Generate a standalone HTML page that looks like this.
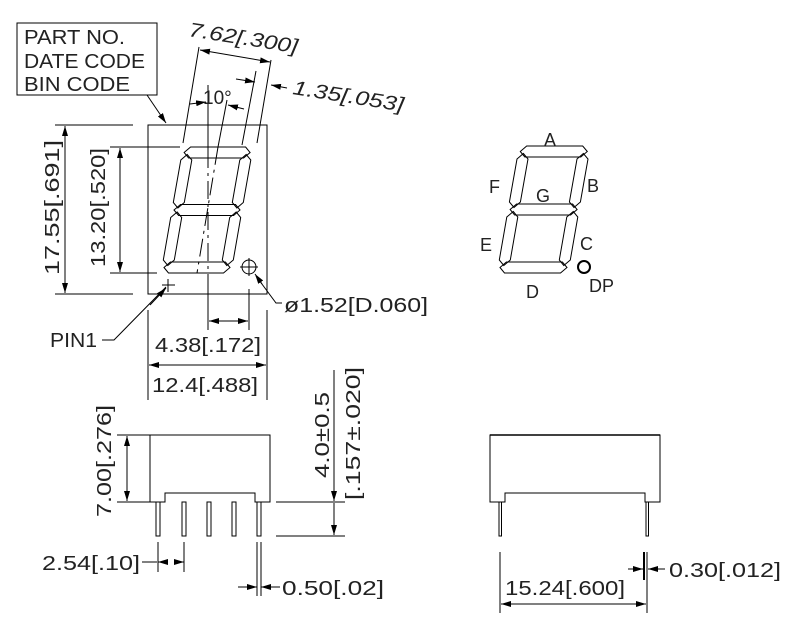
<!DOCTYPE html>
<html><head><meta charset="utf-8"><style>
html,body{margin:0;padding:0;background:#fff;}
svg{display:block;}
text{font-family:"Liberation Sans",sans-serif;fill:#222;}
</style></head><body>
<svg id="s" width="804" height="625" viewBox="0 0 804 625" xmlns="http://www.w3.org/2000/svg">
<defs>
<marker id="a" viewBox="0 0 10 6" refX="10" refY="3" markerWidth="10" markerHeight="6" orient="auto-start-reverse" markerUnits="userSpaceOnUse"><path d="M0,0 L10,3 L0,6z" fill="#000"/></marker>
</defs>
<g stroke="#000" stroke-width="1" fill="none">
<rect x="17" y="23" width="140" height="72"/>
<line x1="147" y1="95" x2="166" y2="123" marker-end="url(#a)"/>
<rect x="148" y="125" width="119" height="169"/>
<line x1="55" y1="125" x2="133" y2="125"/><line x1="55" y1="294" x2="133" y2="294"/>
<line x1="65" y1="126" x2="65" y2="293" marker-start="url(#a)" marker-end="url(#a)"/>
<line x1="110" y1="147" x2="180" y2="147"/><line x1="110" y1="273" x2="157" y2="273"/>
<line x1="120" y1="148" x2="120" y2="272" marker-start="url(#a)" marker-end="url(#a)"/>
<line x1="183" y1="143" x2="199" y2="47"/>
<line x1="242" y1="145" x2="256" y2="71"/>
<line x1="257" y1="143" x2="271" y2="60"/>
<line x1="200" y1="50" x2="270" y2="62" marker-start="url(#a)" marker-end="url(#a)"/>
<line x1="236" y1="79" x2="255" y2="82" marker-end="url(#a)"/>
<line x1="287" y1="88" x2="271" y2="85" marker-end="url(#a)"/>
<line x1="208" y1="85" x2="208" y2="150"/>
<line x1="208" y1="150" x2="208" y2="290" stroke-dasharray="18,5,3,5"/>
<line x1="227" y1="100" x2="218" y2="147"/>
<line x1="218" y1="147" x2="197" y2="273" stroke-dasharray="18,5,3,5"/>
<line x1="190" y1="104" x2="206" y2="102" marker-end="url(#a)"/>
<line x1="244" y1="109" x2="228" y2="105" marker-end="url(#a)"/>
<circle cx="249" cy="267" r="7"/>
<line x1="240" y1="267" x2="258" y2="267"/><line x1="249" y1="258" x2="249" y2="276"/>
<polyline points="282,303 276,303 256,276"/>
<line x1="262" y1="284" x2="255" y2="274" marker-end="url(#a)"/>
<line x1="162" y1="285" x2="175" y2="285"/><line x1="168" y1="279" x2="168" y2="292"/>
<polyline points="102,340 114,340 166,287"/>
<line x1="150" y1="305" x2="166" y2="288" marker-end="url(#a)"/>
<line x1="208" y1="289" x2="208" y2="330"/><line x1="249" y1="289" x2="249" y2="330"/>
<line x1="209" y1="321" x2="248" y2="321" marker-start="url(#a)" marker-end="url(#a)"/>
<line x1="148" y1="310" x2="148" y2="400"/><line x1="267" y1="310" x2="267" y2="400"/>
<line x1="149" y1="365" x2="266" y2="365" marker-start="url(#a)" marker-end="url(#a)"/>
<path d="M150,502 V435 H270 V502 H255 V493 H165 V502 Z"/>
<g id="pins"></g>
<line x1="117" y1="435" x2="150" y2="435"/><line x1="117" y1="502" x2="150" y2="502"/>
<line x1="127" y1="436" x2="127" y2="501" marker-start="url(#a)" marker-end="url(#a)"/>
<line x1="276" y1="502" x2="345" y2="502"/><line x1="276" y1="536" x2="345" y2="536"/>
<line x1="334" y1="370" x2="334" y2="501" marker-end="url(#a)"/>
<line x1="334" y1="503" x2="334" y2="535" marker-end="url(#a)"/>
<line x1="158" y1="542" x2="158" y2="572"/><line x1="184" y1="542" x2="184" y2="572"/>
<line x1="142" y1="562" x2="157" y2="562"/>
<line x1="168" y1="562" x2="158" y2="562" marker-end="url(#a)"/>
<line x1="174" y1="562" x2="184" y2="562" marker-end="url(#a)"/>
<line x1="257" y1="542" x2="257" y2="596"/><line x1="261" y1="542" x2="261" y2="596"/>
<line x1="238" y1="587" x2="257" y2="587" marker-end="url(#a)"/>
<line x1="280" y1="587" x2="261" y2="587" marker-end="url(#a)"/>
<path d="M490,502 V435 H660 V502 H645 V493 H505 V502 Z"/>
<line x1="490" y1="435" x2="660" y2="435" stroke-width="1.5"/>
<rect x="499" y="502" width="2.5" height="34"/><rect x="646" y="502" width="2.5" height="34"/>
<line x1="500" y1="552" x2="500" y2="613"/><line x1="647" y1="552" x2="647" y2="613"/>
<line x1="501" y1="604" x2="646" y2="604" marker-start="url(#a)" marker-end="url(#a)"/>
<line x1="644" y1="552" x2="644" y2="580" stroke-width="2"/>
<line x1="628" y1="569" x2="643" y2="569" marker-end="url(#a)"/>
<line x1="665" y1="569" x2="648" y2="569" marker-end="url(#a)"/>
<circle cx="584" cy="267" r="6" stroke-width="2"/>
<g id="segs" stroke-width="1"></g>
</g>
<g font-size="20">
<text x="24" y="44" textLength="101" lengthAdjust="spacingAndGlyphs">PART NO.</text>
<text x="24" y="68" textLength="121" lengthAdjust="spacingAndGlyphs">DATE CODE</text>
<text x="24" y="91" textLength="106" lengthAdjust="spacingAndGlyphs">BIN CODE</text>
<text transform="translate(188,36) rotate(9)" font-style="italic" textLength="110" lengthAdjust="spacingAndGlyphs">7.62[.300]</text>
<text transform="translate(292,94) rotate(9)" font-style="italic" textLength="112" lengthAdjust="spacingAndGlyphs">1.35[.053]</text>
<text x="203" y="104" font-size="19">10°</text>
<text transform="translate(59,275) rotate(-90)" textLength="135" lengthAdjust="spacingAndGlyphs">17.55[.691]</text>
<text transform="translate(105,267) rotate(-90)" textLength="119" lengthAdjust="spacingAndGlyphs">13.20[.520]</text>
<text x="284" y="312" textLength="144" lengthAdjust="spacingAndGlyphs">ø1.52[D.060]</text>
<text x="50" y="347" textLength="47" lengthAdjust="spacingAndGlyphs">PIN1</text>
<text x="155" y="352" textLength="106" lengthAdjust="spacingAndGlyphs">4.38[.172]</text>
<text x="152" y="392" textLength="106" lengthAdjust="spacingAndGlyphs">12.4[.488]</text>
<text transform="translate(111,517) rotate(-90)" textLength="112" lengthAdjust="spacingAndGlyphs">7.00[.276]</text>
<text transform="translate(329,478) rotate(-90)" textLength="86" lengthAdjust="spacingAndGlyphs">4.0±0.5</text>
<text transform="translate(360,500) rotate(-90)" textLength="133" lengthAdjust="spacingAndGlyphs">[.157±.020]</text>
<text x="42" y="570" textLength="98" lengthAdjust="spacingAndGlyphs">2.54[.10]</text>
<text x="282" y="595" textLength="102" lengthAdjust="spacingAndGlyphs">0.50[.02]</text>
<text x="505" y="595" textLength="120" lengthAdjust="spacingAndGlyphs">15.24[.600]</text>
<text x="669" y="577" textLength="112" lengthAdjust="spacingAndGlyphs">0.30[.012]</text>
<text x="544" y="146" font-size="18">A</text>
<text x="587" y="192" font-size="18">B</text>
<text x="489" y="193" font-size="18">F</text>
<text x="536" y="202" font-size="18">G</text>
<text x="480" y="251" font-size="18">E</text>
<text x="580" y="250" font-size="18">C</text>
<text x="526" y="298" font-size="18">D</text>
<text x="589" y="292" font-size="18">DP</text>
</g>
</svg>
<script>
(function(){
var NS="http://www.w3.org/2000/svg";
var segs=document.getElementById('segs');
function pts(arr,x0,yb,s){return arr.map(function(p){return (x0+p[0]+s*p[1]).toFixed(1)+","+(yb-p[1]).toFixed(1);}).join(" ");}
function add(p){var e=document.createElementNS(NS,'polygon');e.setAttribute('points',p);segs.appendChild(e);}
function digit(x0,yb,W,H,t,s){
 var g=2,h=t/2;
 function hz(vc){return [[g,vc],[g+h,vc+h],[W-g-h,vc+h],[W-g,vc],[W-g-h,vc-h],[g+h,vc-h]];}
 function vt(uc,v1,v2){return [[uc,v1+g],[uc+h,v1+g+h],[uc+h,v2-g-h],[uc,v2-g],[uc-h,v2-g-h],[uc-h,v1+g+h]];}
 var m=H/2;
 [hz(h),hz(m),hz(H-h),vt(h,h,m),vt(W-h,h,m),vt(h,m,H-h),vt(W-h,m,H-h)].forEach(function(a){add(pts(a,x0,yb,s));});
}
digit(161,273,70,126,11,0.175);
digit(497,273,71,127,11,0.175);
var pins=document.getElementById('pins');
[158,184,209,234,259].forEach(function(x){var r=document.createElementNS(NS,'rect');r.setAttribute('x',x-2);r.setAttribute('y',502);r.setAttribute('width',4);r.setAttribute('height',34);pins.appendChild(r);});
})();
</script>
</body></html>
